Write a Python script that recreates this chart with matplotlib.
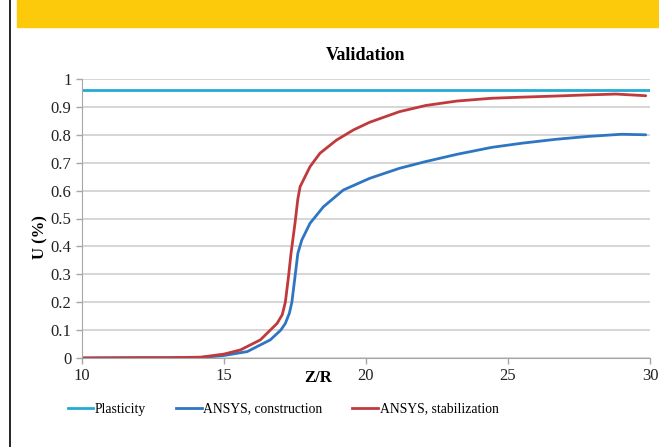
import matplotlib
matplotlib.use("Agg")
import matplotlib.pyplot as plt
from matplotlib.lines import Line2D
from matplotlib.patches import Rectangle

plt.rcParams['font.family'] = ['Liberation Serif', 'DejaVu Serif']

plasticite_u = 0.96

z_stabilisation = [10, 12, 13, 14.18, 15, 15.58, 16.28, 16.87, 17.05, 17.16, 17.27, 17.36, 17.5,
                   17.6, 17.68, 18.03, 18.38, 18.96, 19.55, 20.13, 21.18, 22.1, 23.2, 24.43,
                   25.5, 26.7, 27.8, 28.8, 29.85]
u_stabilisation = [0, 0.001, 0.001, 0.003, 0.014, 0.029, 0.065, 0.124, 0.155, 0.2, 0.291, 0.375,
                   0.483, 0.57, 0.614, 0.686, 0.734, 0.781, 0.817, 0.845, 0.883, 0.905, 0.921,
                   0.931, 0.935, 0.939, 0.943, 0.946, 0.94]

z_construction = [10, 12, 13, 14.2, 15, 15.82, 16.63, 17.0, 17.16, 17.3, 17.39, 17.5, 17.6,
                  17.74, 18.03, 18.5, 19.2, 20.13, 21.18, 22.1, 23.2, 24.43, 25.5, 26.7, 27.8,
                  29.0, 29.85]
u_construction = [0, 0.001, 0.001, 0.002, 0.009, 0.023, 0.065, 0.1, 0.124, 0.16, 0.2, 0.291,
                  0.375, 0.423, 0.483, 0.542, 0.602, 0.644, 0.68, 0.704, 0.73, 0.755, 0.77,
                  0.784, 0.794, 0.802, 0.8]

x_ticks = [10, 15, 20, 25, 30]
y_ticks = [0, 0.1, 0.2, 0.3, 0.4, 0.5, 0.6, 0.7, 0.8, 0.9, 1]
y_labels = ["0", "0.1", "0.2", "0.3", "0.4", "0.5", "0.6", "0.7", "0.8", "0.9", "1"]

c_plast = '#22ACD1'
c_constr = '#2F76C2'
c_stab = '#C03A3D'

fig = plt.figure(figsize=(6.59, 4.47), dpi=100)

# bandeau jaune et filet noir à gauche
fig.patches.append(Rectangle((17 / 659, 1 - 27 / 447), 1, 27 / 447, transform=fig.transFigure,
                             color='#FDC90B', zorder=0))
fig.add_artist(Line2D([9.5 / 659, 9.5 / 659], [0, 1], color='black', lw=1.2))

ax = fig.add_axes([82 / 659, 1 - 358 / 447, 568 / 659, 279 / 447])

kw = dict(lw=2, solid_joinstyle='round', solid_capstyle='round')
ax.plot([10, 30], [plasticite_u, plasticite_u], color=c_plast, **kw)
ax.plot(z_construction, u_construction, color=c_constr, **kw)
ax.plot(z_stabilisation, u_stabilisation, color=c_stab, **kw)

ax.set_xlim(10, 30)
ax.set_ylim(0, 1)
ax.set_xticks(x_ticks)
ax.set_yticks(y_ticks)
ax.set_yticklabels(y_labels)
ax.tick_params(labelsize=12, colors='#A6A6A6', labelcolor='#222222', length=4, width=1)
ax.yaxis.grid(True, color='#D0D0D0', lw=1.2)
ax.set_axisbelow(True)
for s in ['top', 'right']:
    ax.spines[s].set_visible(False)
for s in ['left', 'bottom']:
    ax.spines[s].set_color('#A6A6A6')

ax.set_title("Validation", fontsize=13, fontweight='bold', pad=14)
fig.text(40 / 659, 1 - 237 / 447, "U (%)", rotation=90, fontsize=12, fontweight='bold',
         ha='center', va='center')
fig.text(318 / 659, 1 - 378 / 447, "Z/R", fontsize=12, fontweight='bold', ha='center', va='center')

handles = [Line2D([], [], color=c_plast, lw=2),
           Line2D([], [], color=c_constr, lw=2),
           Line2D([], [], color=c_stab, lw=2)]
fig.legend(handles, ["Plasticity", "ANSYS, construction", "ANSYS, stabilization"],
           loc='center', bbox_to_anchor=(283 / 659, 1 - 409 / 447), ncol=3, frameon=False,
           fontsize=9.8, handlelength=1.9, handletextpad=0.1, columnspacing=2.2)

fig.savefig("out.png", dpi=100)
